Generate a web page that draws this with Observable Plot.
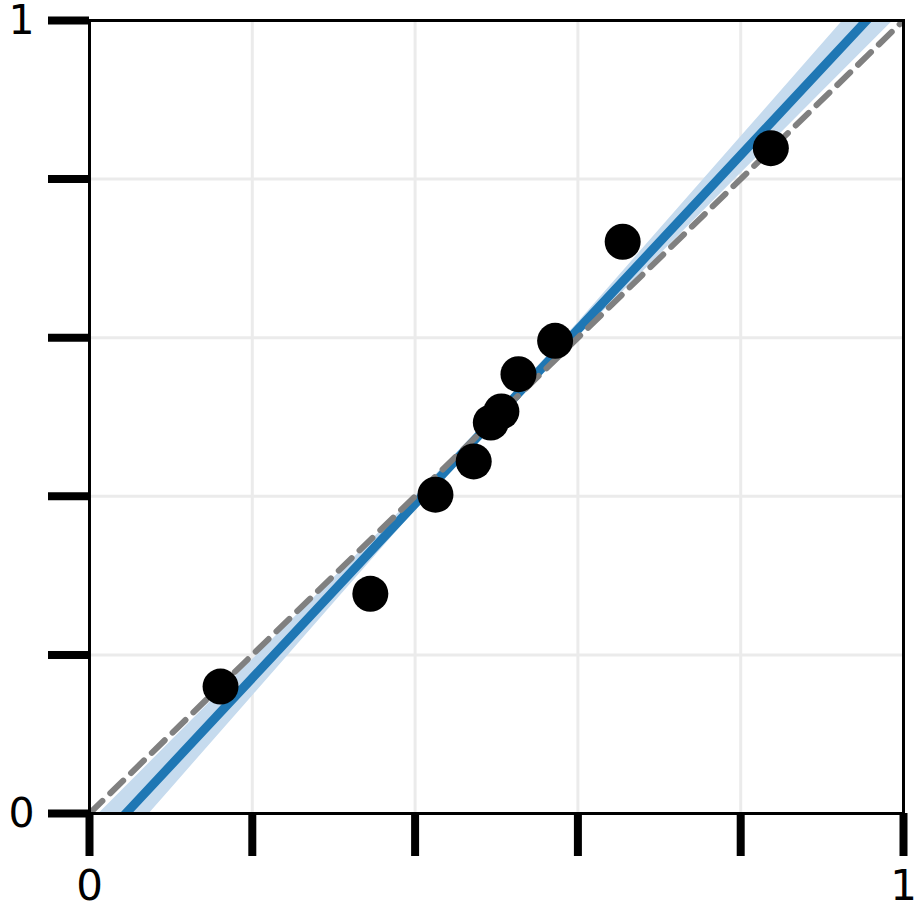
<!DOCTYPE html>
<html>
<head>
<meta charset="utf-8">
<script src="https://cdn.jsdelivr.net/npm/d3@7"></script>
<script src="https://cdn.jsdelivr.net/npm/@observablehq/plot@0.6"></script>
<style>
  html, body { margin: 0; padding: 0; background: #fff; }
  #chart { width: 921px; height: 916px; }
</style>
</head>
<body>
<div id="chart"></div>
<script>
// Observed points
const pointX = [0.161, 0.345, 0.425, 0.472, 0.493, 0.506, 0.527, 0.572, 0.655, 0.837];
const pointY = [0.160, 0.277, 0.402, 0.444, 0.493, 0.507, 0.554, 0.596, 0.721, 0.839];

// Fitted line (endpoints)
const fitX = [0, 1];
const fitY = [-0.049, 1.050];

// Confidence band edges
const bandX    = [0, 0.1, 0.2, 0.3, 0.4, 0.5, 0.6, 0.7, 0.8, 0.9, 1.0];
const bandLow  = [-0.086, 0.031, 0.148, 0.265, 0.382, 0.495, 0.601, 0.704, 0.807, 0.910, 1.013];
const bandHigh = [-0.012, 0.091, 0.194, 0.297, 0.400, 0.507, 0.619, 0.736, 0.853, 0.970, 1.087];

// Reference diagonal
const diagX = [0, 1];
const diagY = [0, 1];

// Ticks
const ticks = [0, 0.2, 0.4, 0.6, 0.8, 1.0];
const tickLabels = {0: "0", 1: "1"};

const points = pointX.map((x, i) => ({x, y: pointY[i]}));
const fit = fitX.map((x, i) => ({x, y: fitY[i]}));
const band = bandX.map((x, i) => ({x, lo: bandLow[i], hi: bandHigh[i]}));
const diag = diagX.map((x, i) => ({x, y: diagY[i]}));
const fmt = d => (d in tickLabels ? tickLabels[d] : "");

const chart = Plot.plot({
  width: 921,
  height: 916,
  marginLeft: 89,
  marginRight: 18,
  marginTop: 20,
  marginBottom: 103,
  style: {fontFamily: "DejaVu Sans", background: "white", overflow: "visible"},
  x: {domain: [0, 1]},
  y: {domain: [0, 1]},
  marks: [
    Plot.gridX(ticks, {stroke: "#ebebeb", strokeOpacity: 1, strokeWidth: 3}),
    Plot.gridY(ticks, {stroke: "#ebebeb", strokeOpacity: 1, strokeWidth: 3}),
    Plot.areaY(band, {x: "x", y1: "lo", y2: "hi", fill: "#c6dbee", fillOpacity: 1, clip: true}),
    Plot.line(fit, {x: "x", y: "y", stroke: "#1f77b4", strokeWidth: 9, clip: true}),
    Plot.line(diag, {x: "x", y: "y", stroke: "#808080", strokeWidth: 6, strokeDasharray: "18,11", clip: true}),
    Plot.dot(points, {x: "x", y: "y", r: 18, fill: "black", stroke: "none"}),
    Plot.frame({stroke: "black", strokeWidth: 3}),
    Plot.axisX({ticks, tickSize: 43, strokeWidth: 8, tickPadding: 14, tickFormat: fmt, fontSize: 42, fill: "black", label: null}),
    Plot.axisY({ticks, tickSize: 41, strokeWidth: 8, tickPadding: 14, tickFormat: fmt, fontSize: 41, fill: "black", label: null})
  ]
});
document.getElementById("chart").appendChild(chart);
</script>
</body>
</html>
